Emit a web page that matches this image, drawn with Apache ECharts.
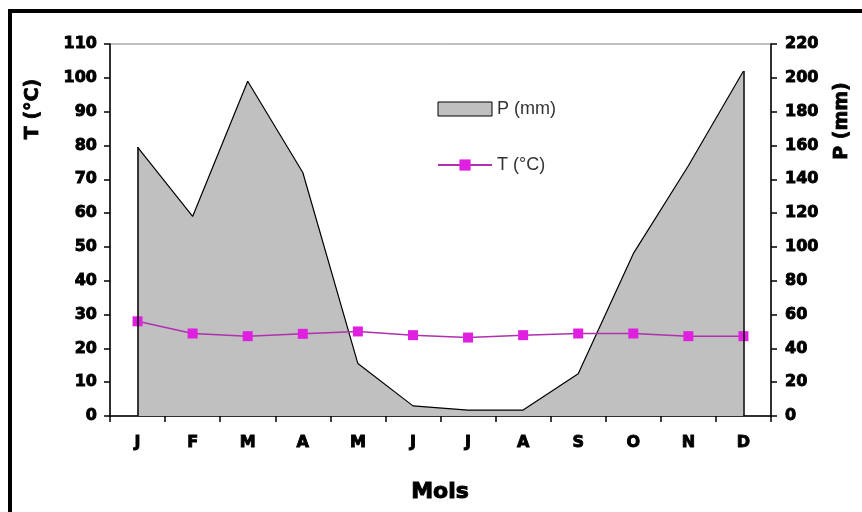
<!DOCTYPE html>
<html>
<head>
<meta charset="utf-8">
<script src="https://cdn.jsdelivr.net/npm/echarts@6/dist/echarts.min.js"></script>
<style>
  html, body { margin: 0; padding: 0; background: #fff; }
  #chart { width: 862px; height: 512px; }
</style>
</head>
<body>
<div id="chart"></div>
<script>
// Monthly climate values: precipitation (mm) and mean temperature (°C)
const months = ['Janvier', 'Février', 'Mars', 'Avril', 'Mai', 'Juin',
                'Juillet', 'Août', 'Septembre', 'Octobre', 'Novembre', 'Décembre'];
const monthInitials = ['J', 'F', 'M', 'A', 'M', 'J', 'J', 'A', 'S', 'O', 'N', 'D'];
const precipitation = [159, 118, 198, 144, 31, 6, 3.5, 3.5, 25, 96, 148, 204];
const temperature = [28, 24.4, 23.6, 24.3, 25, 23.9, 23.2, 23.9, 24.4, 24.4, 23.6, 23.6];

const labelFont = 'DejaVu Sans';
// heavy axis text: bold face plus a thin outline of the same colour
const heavy = { fontFamily: labelFont, fontWeight: 'bold', color: '#000',
                textBorderColor: '#000', textBorderWidth: 0.9 };

const chart = echarts.init(document.getElementById('chart'), null, { renderer: 'canvas' });
const last = precipitation.length - 1;

chart.setOption({
  backgroundColor: '#ffffff',
  animation: false,
  grid: {
    left: 110, right: 91, top: 44, bottom: 96,
    show: true, backgroundColor: '#ffffff', borderColor: '#808080', borderWidth: 1
  },
  legend: {
    orient: 'vertical',
    left: 437, top: 100, padding: 0,
    itemWidth: 54, itemHeight: 14, itemGap: 38,
    textStyle: { fontFamily: 'Liberation Sans', fontSize: 18, color: '#333' },
    data: [
      { name: 'P (mm)', icon: 'rect',
        itemStyle: { color: '#c0c0c0', borderColor: '#000', borderWidth: 1 } },
      { name: 'T (°C)' }
    ]
  },
  xAxis: {
    type: 'category',
    data: months,
    boundaryGap: true,
    axisLine: { lineStyle: { color: '#000', width: 1.5 } },
    axisTick: { show: true, length: 6, inside: false, lineStyle: { color: '#000', width: 1.5 } },
    axisLabel: Object.assign({
      margin: 19, fontSize: 16,
      formatter: (v, i) => monthInitials[i]
    }, heavy),
    splitLine: { show: false }
  },
  yAxis: [
    {
      type: 'value', min: 0, max: 110, interval: 10, position: 'left',
      axisLine: { show: true, lineStyle: { color: '#000', width: 1.5 } },
      axisTick: { show: true, length: 6, lineStyle: { color: '#000', width: 1.5 } },
      axisLabel: Object.assign({ margin: 13, fontSize: 16 }, heavy),
      splitLine: { show: false }
    },
    {
      type: 'value', min: 0, max: 220, interval: 20, position: 'right',
      axisLine: { show: true, lineStyle: { color: '#000', width: 1.5 } },
      axisTick: { show: true, length: 6, lineStyle: { color: '#000', width: 1.5 } },
      axisLabel: Object.assign({ margin: 14, fontSize: 16 }, heavy),
      splitLine: { show: false }
    }
  ],
  series: [
    {
      name: 'P (mm)',
      type: 'line',
      yAxisIndex: 1,
      data: precipitation,
      symbol: 'none',
      lineStyle: { color: '#000', width: 1.2 },
      itemStyle: { color: '#c0c0c0' },
      areaStyle: { color: '#c0c0c0', opacity: 1 },
      z: 1,
      markLine: {
        silent: true,
        symbol: 'none',
        label: { show: false },
        lineStyle: { color: '#000', width: 1.5, type: 'solid' },
        data: [
          [{ coord: [0, 0] }, { coord: [0, precipitation[0]] }],
          [{ coord: [last, 0] }, { coord: [last, precipitation[last]] }]
        ]
      }
    },
    {
      name: 'T (°C)',
      type: 'line',
      yAxisIndex: 0,
      data: temperature,
      symbol: 'rect',
      symbolSize: 10,
      lineStyle: { color: '#b030b0', width: 1.5 },
      itemStyle: { color: '#e020e0' },
      z: 3
    }
  ],
  graphic: [
    {
      type: 'rect',
      shape: { x: 10, y: 11, width: 900, height: 600 },
      style: { fill: 'none', stroke: '#000', lineWidth: 4 },
      silent: true
    },
    {
      type: 'text',
      x: 33, y: 109, rotation: Math.PI / 2,
      style: {
        text: 'T (°C)', fontFamily: labelFont, fontWeight: 'bold', fontSize: 19,
        fill: '#000', stroke: '#000', lineWidth: 0.8, align: 'center', verticalAlign: 'middle'
      }
    },
    {
      type: 'text',
      x: 842, y: 121, rotation: Math.PI / 2,
      style: {
        text: 'P (mm)', fontFamily: labelFont, fontWeight: 'bold', fontSize: 19,
        fill: '#000', stroke: '#000', lineWidth: 0.8, align: 'center', verticalAlign: 'middle'
      }
    },
    {
      type: 'text',
      x: 440, y: 492,
      style: {
        text: 'Mois', fontFamily: labelFont, fontWeight: 'bold', fontSize: 22,
        fill: '#000', stroke: '#000', lineWidth: 1, align: 'center', verticalAlign: 'middle'
      }
    }
  ]
});
</script>
</body>
</html>
